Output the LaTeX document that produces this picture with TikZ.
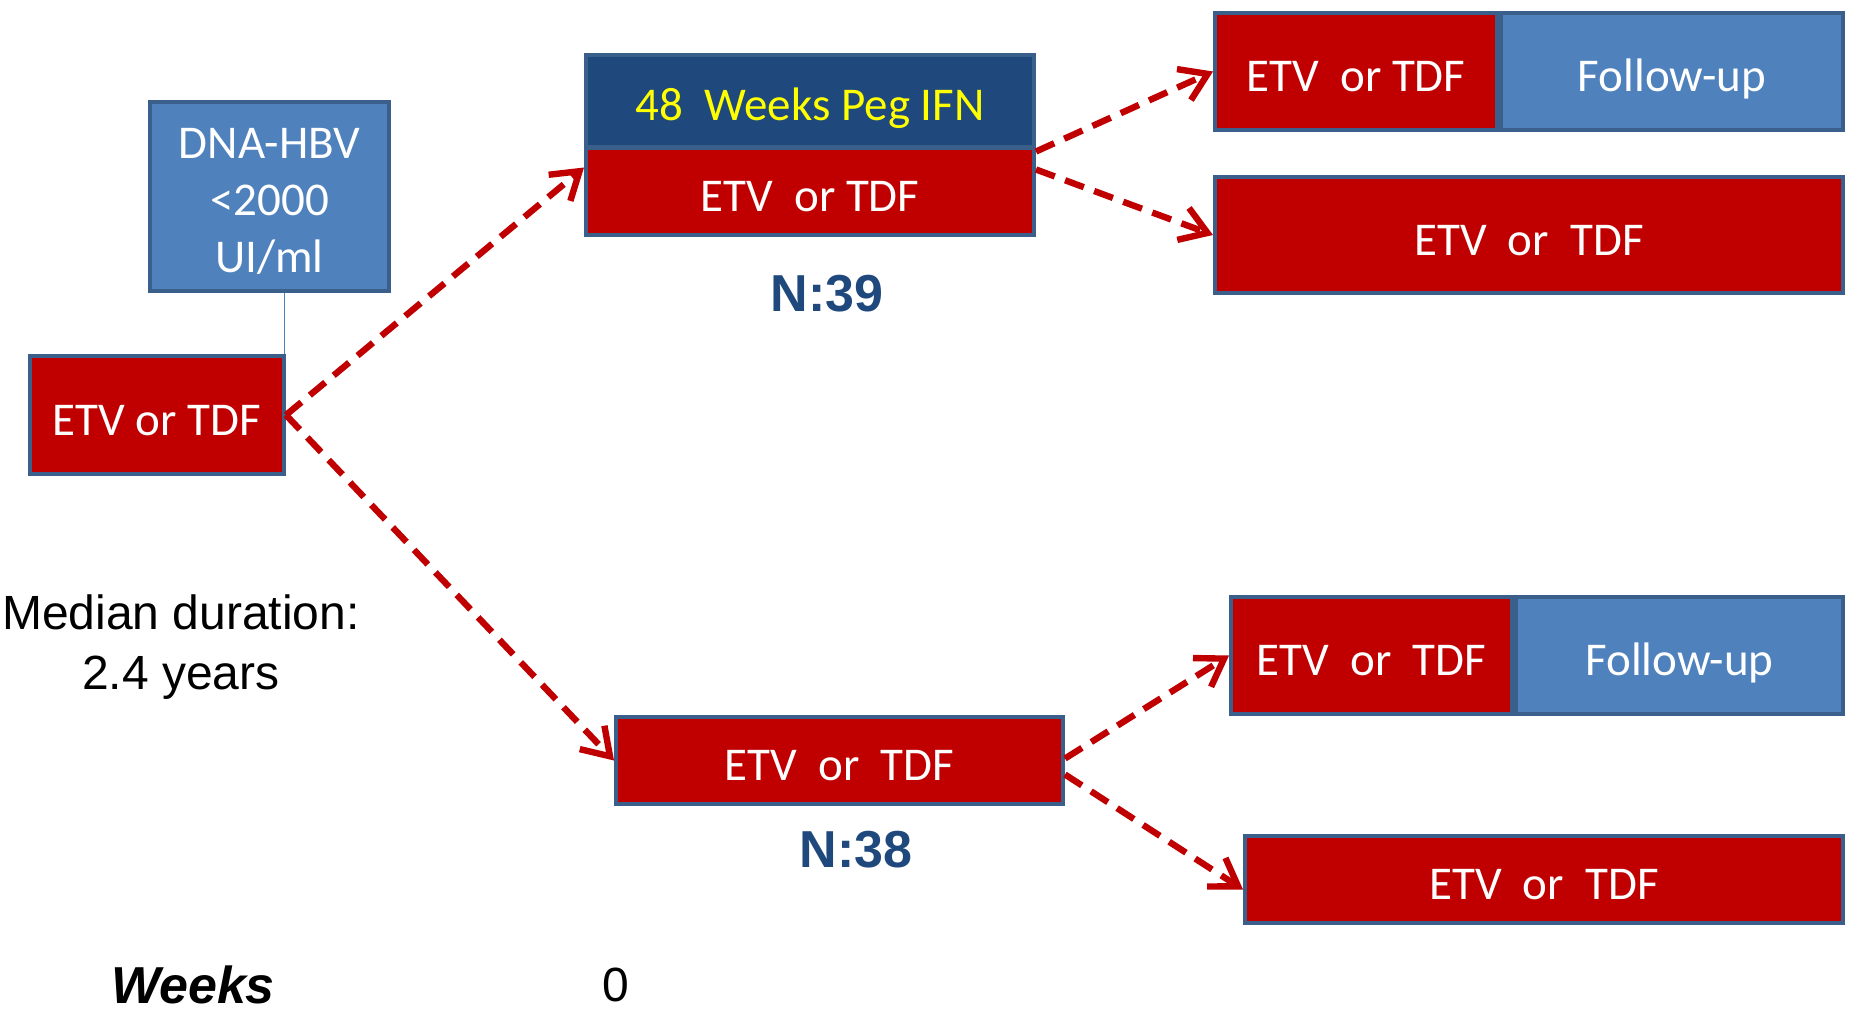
\documentclass[tikz,border=0pt]{standalone}
\usepackage{fontspec}
\setmainfont{Carlito}
\newfontfamily\arialfont{Liberation Sans}
\usetikzlibrary{arrows.meta,positioning}
\definecolor{drugred}{HTML}{C00000}
\definecolor{fublue}{HTML}{4F81BD}
\definecolor{pegblue}{HTML}{1F497D}
\definecolor{edgeblue}{HTML}{3A5F8B}
\definecolor{pegyellow}{HTML}{FFFF00}

\begin{document}
\begin{tikzpicture}[x=0.5pt,y=-0.5pt,
  box/.style={draw=edgeblue,line width=2pt,inner sep=0pt,text=white,
    font=\fontsize{23.5}{28.5}\selectfont},
  onerow/.style={text height=20pt,text depth=0pt},
  drug/.style={box,onerow,fill=drugred},
  fup/.style={box,fill=fublue},
  armn/.style={font=\arialfont\bfseries\fontsize{26}{30}\selectfont,text=pegblue},
  flow/.style={-{Straight Barb[length=13pt,width=17pt]},draw=drugred,
    line width=3.2pt,dash pattern=on 10pt off 5.5pt},
]
  \useasboundingbox (0,0) rectangle (1858,1011);

  \node[fup,minimum width=119.5pt,minimum height=94.5pt,align=center] (dna) at (269.5,196.5)
    {\rule{0pt}{20pt}DNA-HBV\\<2000\\UI/ml};
  \node[drug,minimum width=127pt,minimum height=59pt] (etv0) at (157,415) {ETV or TDF};
  \node[box,onerow,fill=pegblue,text=pegyellow,minimum width=224pt,minimum height=46pt] (peg) at (810,101)
    {48\ \ Weeks Peg IFN};

  \foreach \name/\x/\y/\w/\h/\txt in {
    etvA/810/191.5/224/43/{ETV\ \ or TDF},
    rA/1356/71.5/141/58.5/{ETV\ \ or TDF},
    rB/1529/235/314/58/{ETV\ \ or\ \ TDF},
    etvB/839.5/760.5/223.5/43.5/{ETV\ \ or\ \ TDF},
    rC/1371.5/655.5/140.5/58.5/{ETV\ \ or\ \ TDF},
    rD/1544/879.5/299/43.5/{ETV\ \ or\ \ TDF}} {
    \node[drug,minimum width=\w pt,minimum height=\h pt] (\name) at (\x,\y) {\txt};
  }
  \node[fup,onerow,minimum width=171pt,minimum height=58.5pt] (fuA) at (1672,71.5) {Follow-up};
  \node[fup,onerow,minimum width=163.5pt,minimum height=58.5pt] (fuC) at (1679.5,655.5) {Follow-up};

  \node[armn] (n39) at (827,294) {N:39};
  \node[armn] (n38) at (856,850) {N:38};

  \node[font=\arialfont\fontsize{24}{30}\selectfont,align=center] (median) at (181,647)
    {Median duration:\\2.4 years};
  \node[inner sep=0pt,font=\arialfont\bfseries\itshape\fontsize{26}{30}\selectfont] (weeks) at (193,985) {Weeks};
  \node[inner sep=0pt,font=\arialfont\fontsize{24}{30}\selectfont] (wk0) at (616,985) {0};

  \draw[fublue,line width=0.8pt] ([xshift=7.5pt]dna.south) -- ([xshift=7.5pt]dna.south |- etv0.north);

  \draw[flow] (etv0.east) -- ([yshift=12pt]etvA.west);
  \draw[flow] (etv0.east) -- (etvB.west);
  \draw[flow] ([yshift=20pt]etvA.east) -- (rA.west);
  \draw[flow] ([yshift=11pt]etvA.east) -- (rB.west);
  \draw[flow] ([yshift=1pt]etvB.east) -- (rC.west);
  \draw[flow] ([yshift=-7pt]etvB.east) -- ([yshift=-5pt]rD.west);
\end{tikzpicture}
\end{document}
